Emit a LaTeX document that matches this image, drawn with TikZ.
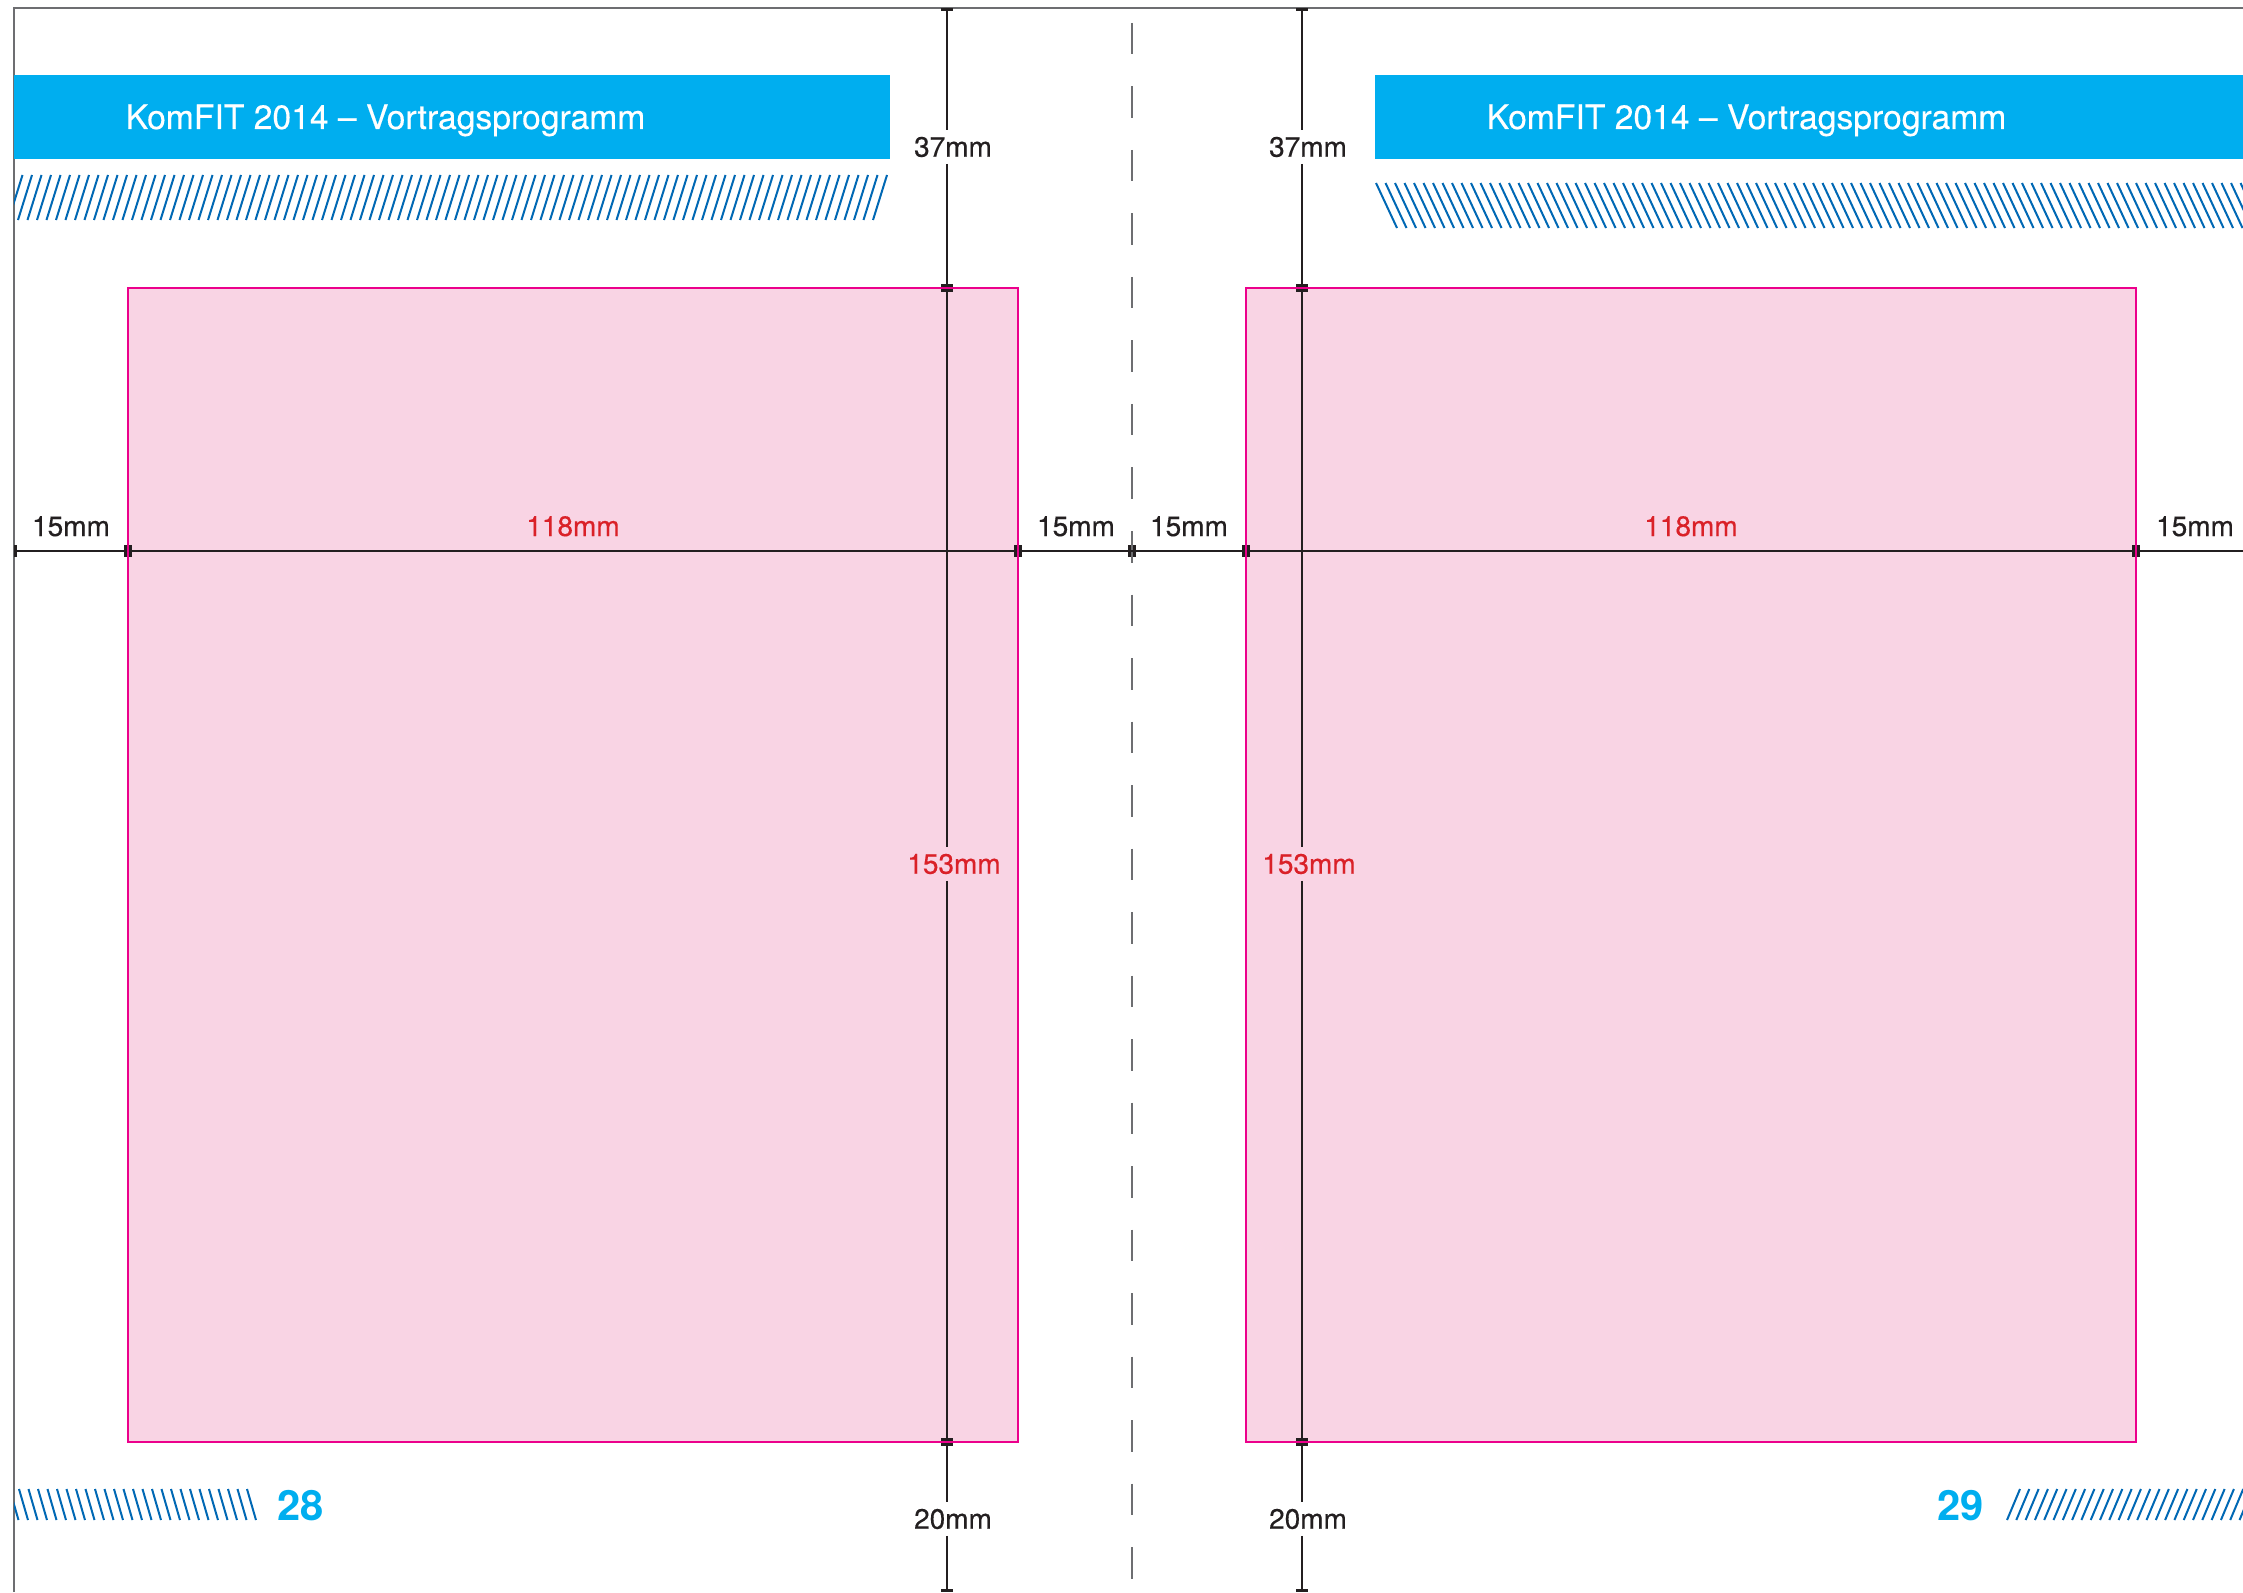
\documentclass[tikz,border=0pt]{standalone}
\usepackage{fontspec}
\setmainfont{TeX Gyre Heros}
\newfontfamily\labfont[FakeBold=0.35]{TeX Gyre Heros}
\definecolor{cyanb}{HTML}{00AEEF}
\definecolor{hatchb}{HTML}{0068B4}
\definecolor{pinkf}{HTML}{F9D4E4}
\definecolor{magb}{HTML}{EC008C}
\definecolor{dimc}{HTML}{231F20}
\definecolor{redt}{HTML}{DA2128}
\definecolor{pageg}{HTML}{6D6E71}
\begin{document}
\begin{tikzpicture}[x=0.3pt,y=-0.3pt,
  dimline/.style={draw=dimc,line width=0.8pt},
  tickmark/.style={draw=dimc,line width=0.9pt},
  dimlabel/.style={font=\labfont\fontsize{8.4}{10}\selectfont,text=dimc,inner xsep=0pt,inner ysep=1.8pt},
  redlabel/.style={dimlabel,text=redt},
  hatchline/.style={draw=hatchb,line width=0.6pt},
  boxfill/.style={fill=pinkf},
  boxedge/.style={draw=magb,line width=0.85pt},
  headtext/.style={font=\labfont\fontsize{10.1}{12}\selectfont,text=white,inner sep=0pt,anchor=base west},
  pagenum/.style={font=\bfseries\fontsize{12.5}{14}\selectfont,text=cyanb,inner sep=0pt,anchor=base west},
  pageline/.style={draw=pageg,line width=0.65pt}]
\useasboundingbox (0,0) rectangle (2243,1592);

% page border
\draw[pageline] (2243,8) -- (14,8) -- (14,1592);

% header bars
\fill[cyanb] (14,75) rectangle (890,159);
\fill[cyanb] (1375,75) rectangle (2243,159);
\node[headtext] (head1) at (125,129) {KomFIT 2014 – Vortragsprogramm};
\node[headtext] (head2) at (1486,129) {KomFIT 2014 – Vortragsprogramm};

% hatches
\begin{scope}
  \clip (14,170) rectangle (900,225);
  \foreach \k in {0,...,92} \draw[hatchline] ({873-9.5*\k},220) -- ({887-9.5*\k},175);
\end{scope}
\begin{scope}
  \clip (1370,178) rectangle (2243,233);
  \foreach \k in {0,...,92} \draw[hatchline] ({1376+9.5*\k},183) -- ({1397+9.5*\k},228);
\end{scope}
\begin{scope}
  \clip (14,1484) rectangle (270,1525);
  \foreach \k in {0,...,26} \draw[hatchline] ({247-9.5*\k},1489) -- ({256-9.5*\k},1520);
\end{scope}
\begin{scope}
  \clip (2000,1484) rectangle (2243,1525);
  \foreach \k in {0,...,26} \draw[hatchline] ({2007+9.3*\k},1520) -- ({2020+9.3*\k},1489);
\end{scope}

% type areas (fill)
\fill[boxfill] (128,288) rectangle (1018,1442);
\fill[boxfill] (1246,288) rectangle (2136,1442);

% page numbers
\node[pagenum] (pn28) at (277,1520) {28};
\node[pagenum] (pn29) at (1937,1520) {29};

% spine
\draw[pageline,dash pattern=on 9.45pt off 9.6pt] (1132,23) -- (1132,1592);

% horizontal dimension line
\coordinate (h0) at (14,551);
\coordinate (h6) at (2243,551);
\draw[dimline] (h0) -- (h6);
\node[dimlabel,anchor=base] (w1) at (71,536) {15mm};
\node[redlabel,anchor=base] (w2) at (573,536) {118mm};
\node[dimlabel,anchor=base] (w3) at (1076,536) {15mm};
\node[dimlabel,anchor=base] (w4) at (1189,536) {15mm};
\node[redlabel,anchor=base] (w5) at (1691,536) {118mm};
\node[dimlabel,anchor=base] (w6) at (2195,536) {15mm};

% vertical dimension lines
\foreach \vx/\nm in {947/a,1302/b}{
  \coordinate (vt\nm) at (\vx,10);
  \coordinate (vbot\nm) at (\vx,1592);
  \node[dimlabel] (l37\nm) at (\vx+6,147) {37mm};
  \node[redlabel] (l153\nm) at (\vx+7,864) {153mm};
  \node[dimlabel] (l20\nm) at (\vx+6,1519) {20mm};
  \draw[dimline] (vt\nm) -- (vt\nm |- l37\nm.north);
  \draw[dimline] (vt\nm |- l37\nm.south) -- (vt\nm |- l153\nm.north);
  \draw[dimline] (vt\nm |- l153\nm.south) -- (vt\nm |- l20\nm.north);
  \draw[dimline] (vt\nm |- l20\nm.south) -- (vbot\nm);
}

% type area borders
\draw[boxedge] (128,288) rectangle (1018,1442);
\draw[boxedge] (1246,288) rectangle (2136,1442);

% ticks on horizontal line
\foreach \tx in {15.5,125.5,130.5,1015.5,1020.5,1129.5,1134.5,1243.5,1248.5,2133.5,2138.5}
  \draw[tickmark] (\tx,545) -- (\tx,557);
% ticks on vertical lines
\foreach \vx in {947,1302}{
  \foreach \ty in {10,285.5,290.5,1439.5,1444.5,1590.5}
    \draw[tickmark] (\vx-6,\ty) -- (\vx+6,\ty);
}
\end{tikzpicture}
\end{document}
